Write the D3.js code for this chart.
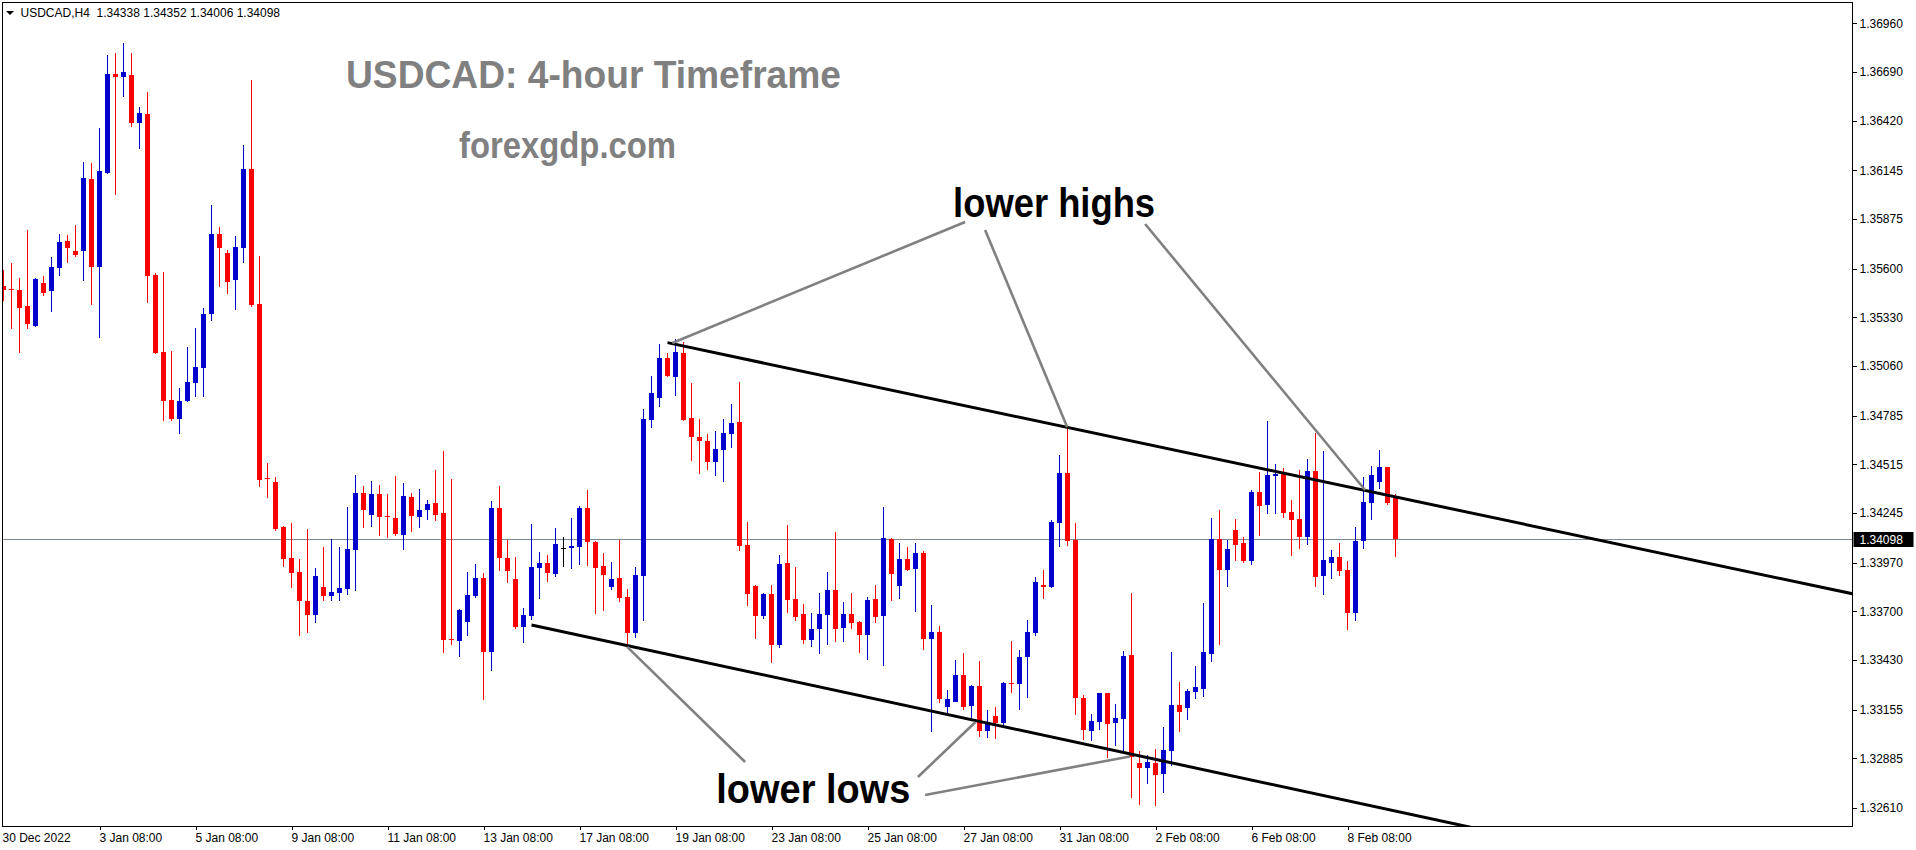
<!DOCTYPE html>
<html>
<head>
<meta charset="utf-8">
<script src="https://cdn.jsdelivr.net/npm/d3@7"></script>
<style>
  html, body { margin: 0; padding: 0; background: #ffffff; }
  svg { display: block; }
  text { font-family: "Liberation Sans", Arial, sans-serif; }
</style>
</head>
<body>
<svg id="chart" width="1916" height="850"></svg>
<script>
// ---------------- DATA (USDCAD H4) ----------------
const symbolHeader = "USDCAD,H4  1.34338 1.34352 1.34006 1.34098";
const chartTitle = "USDCAD: 4-hour Timeframe";
const siteName = "forexgdp.com";

const opens = [
1.35503,1.35489,1.35481,1.35392,1.35281,1.35520,1.35475,1.35603,1.35753,1.35697,
1.35697,1.36096,1.35608,1.36130,1.36678,1.36662,1.36673,1.36407,1.36457,1.35564,
1.35137,1.34871,1.34766,1.34866,1.34968,1.35048,1.35348,1.35791,1.35686,1.35536,
1.35714,1.36152,1.35403,1.34437,1.34416,1.34167,1.33995,1.33917,1.33758,1.33680,
1.33834,1.33787,1.33802,1.33824,1.34041,1.34355,1.34235,1.34350,1.34228,1.34217,
1.34124,1.34333,1.34224,1.34263,1.34300,1.34245,1.33544,1.33537,1.33642,1.33786,
1.33884,1.33476,1.34272,1.33995,1.33879,1.33614,1.33675,1.33941,1.33967,1.33908,
1.34051,1.34051,1.34058,1.34272,1.34084,1.33951,1.33836,1.33884,1.33779,1.33581,
1.33897,1.34762,1.34884,1.35104,1.35000,1.35132,1.34771,1.34666,1.34644,1.34529,
1.34596,1.34684,1.34749,1.34067,1.33840,1.33675,1.33796,1.33514,1.33967,1.33769,
1.33685,1.33542,1.33603,1.33681,1.33818,1.33609,1.33685,1.33640,1.33570,1.33768,
1.33675,1.34100,1.33842,1.33990,1.33936,1.34023,1.33548,1.33587,1.33171,1.33198,
1.33348,1.33176,1.33285,1.33038,1.33121,1.33082,1.33304,1.33298,1.33448,1.33581,
1.33847,1.33836,1.34191,1.34466,1.34097,1.33221,1.33038,1.33088,1.33247,1.33082,
1.33104,1.33459,1.32860,1.32833,1.32860,1.32799,1.32927,1.33182,1.33165,1.33254,
1.33271,1.33465,1.34102,1.33930,1.34152,1.34078,1.33980,1.34361,1.34291,1.34451,
1.34461,1.34252,1.34213,1.34113,1.34477,1.33897,1.33969,1.34002,1.33930,1.33692,
1.34091,1.34302,1.34418,1.34500,1.34338];

const highs = [
1.35592,1.35631,1.35547,1.35814,1.35545,1.35559,1.35664,1.35791,1.35786,1.35841,
1.36191,1.36185,1.36379,1.36784,1.36795,1.36850,1.36795,1.36495,1.36579,1.35575,
1.35581,1.35143,1.34938,1.35165,1.35270,1.35381,1.35952,1.35830,1.35703,1.35780,
1.36285,1.36645,1.35669,1.34522,1.34444,1.34175,1.34191,1.33991,1.34158,1.33941,
1.34058,1.34102,1.34058,1.34278,1.34455,1.34394,1.34422,1.34400,1.34350,1.34450,
1.34411,1.34355,1.34378,1.34317,1.34483,1.34588,1.34433,1.33710,1.33917,1.33962,
1.33912,1.34311,1.34394,1.34097,1.34001,1.33718,1.34184,1.34028,1.34012,1.34161,
1.34112,1.34217,1.34283,1.34372,1.34087,1.34023,1.33973,1.34097,1.33823,1.33945,
1.34821,1.35004,1.35182,1.35132,1.35209,1.35193,1.34965,1.34766,1.34683,1.34699,
1.34766,1.34851,1.34971,1.34195,1.33845,1.33799,1.33845,1.34012,1.34178,1.33945,
1.33740,1.33692,1.33801,1.33917,1.34139,1.33751,1.33801,1.33643,1.33779,1.33845,
1.34278,1.34106,1.34078,1.34056,1.34078,1.34034,1.33735,1.33618,1.33265,1.33431,
1.33470,1.33291,1.33426,1.33154,1.33171,1.33309,1.33537,1.33487,1.33653,1.33891,
1.33930,1.34207,1.34566,1.34716,1.34189,1.33236,1.33132,1.33249,1.33249,1.33187,
1.33481,1.33803,1.32927,1.32905,1.32938,1.33060,1.33476,1.33309,1.33271,1.33398,
1.33747,1.34219,1.34263,1.34097,1.34213,1.34112,1.34372,1.34472,1.34755,1.34516,
1.34494,1.34318,1.34483,1.34544,1.34688,1.34588,1.34041,1.34078,1.33980,1.34169,
1.34444,1.34505,1.34594,1.34502,1.34352];

const lows = [
1.35420,1.35265,1.35137,1.35265,1.35276,1.35448,1.35364,1.35564,1.35631,1.35664,
1.35536,1.35398,1.35220,1.36127,1.36013,1.36556,1.36390,1.36263,1.35414,1.35129,
1.34760,1.34755,1.34688,1.34863,1.34888,1.34888,1.35309,1.35503,1.35459,1.35373,
1.35633,1.35389,1.34394,1.34329,1.34145,1.33947,1.33834,1.33565,1.33582,1.33640,
1.33758,1.33758,1.33758,1.33793,1.33814,1.34163,1.34169,1.34119,1.34108,1.34119,
1.34041,1.34141,1.34163,1.34207,1.34202,1.33470,1.33514,1.33448,1.33564,1.33775,
1.33210,1.33370,1.33925,1.33858,1.33603,1.33526,1.33653,1.33769,1.33864,1.33891,
1.33947,1.33936,1.33958,1.33952,1.33686,1.33703,1.33819,1.33753,1.33513,1.33553,
1.33647,1.34717,1.34834,1.35001,1.34895,1.34756,1.34536,1.34462,1.34485,1.34451,
1.34418,1.34607,1.34036,1.33731,1.33548,1.33659,1.33415,1.33498,1.33692,1.33647,
1.33520,1.33503,1.33465,1.33514,1.33531,1.33531,1.33603,1.33470,1.33431,1.33636,
1.33398,1.33758,1.33769,1.33928,1.33697,1.33487,1.33032,1.33193,1.33126,1.33197,
1.33154,1.33093,1.33004,1.32999,1.32993,1.33071,1.33248,1.33154,1.33221,1.33564,
1.33769,1.33834,1.34058,1.34063,1.33126,1.32988,1.32982,1.33043,1.32888,1.32954,
1.32916,1.32666,1.32627,1.32744,1.32622,1.32694,1.32844,1.33032,1.33099,1.33215,
1.33226,1.33420,1.33514,1.33836,1.33980,1.33969,1.33958,1.34119,1.34241,1.34241,
1.34219,1.34008,1.34047,1.34069,1.33836,1.33792,1.33880,1.33897,1.33598,1.33647,
1.34047,1.34207,1.34378,1.34291,1.34006];

const closes = [
1.35481,1.35484,1.35381,1.35292,1.35542,1.35464,1.35608,1.35747,1.35714,1.35675,
1.36102,1.35608,1.36141,1.36678,1.36662,1.36689,1.36407,1.36462,1.35559,1.35132,
1.34866,1.34766,1.34866,1.34971,1.35054,1.35348,1.35791,1.35714,1.35525,1.35719,
1.36152,1.35398,1.34428,1.34431,1.34158,1.33991,1.33914,1.33758,1.33680,1.33898,
1.33787,1.33808,1.33830,1.34045,1.34355,1.34263,1.34350,1.34224,1.34220,1.34130,
1.34339,1.34230,1.34261,1.34294,1.34235,1.33542,1.33538,1.33707,1.33790,1.33884,
1.33476,1.34272,1.33997,1.33925,1.33614,1.33679,1.33945,1.33967,1.33914,1.34073,
1.34051,1.34062,1.34272,1.34085,1.33941,1.33903,1.33880,1.33775,1.33581,1.33901,
1.34766,1.34910,1.35104,1.35004,1.35137,1.34762,1.34668,1.34645,1.34529,1.34599,
1.34688,1.34745,1.34063,1.33797,1.33675,1.33796,1.33514,1.33962,1.33764,1.33670,
1.33542,1.33601,1.33685,1.33818,1.33603,1.33685,1.33636,1.33570,1.33762,1.33670,
1.34106,1.33908,1.33990,1.33930,1.34023,1.33548,1.33587,1.33215,1.33215,1.33348,
1.33171,1.33285,1.33038,1.33088,1.33082,1.33304,1.33298,1.33448,1.33587,1.33864,
1.33836,1.34196,1.34468,1.34091,1.33221,1.33043,1.33093,1.33247,1.33076,1.33110,
1.33453,1.32894,1.32833,1.32866,1.32794,1.32932,1.33182,1.33143,1.33259,1.33282,
1.33476,1.34102,1.33930,1.34047,1.34069,1.33980,1.34361,1.34285,1.34455,1.34461,
1.34246,1.34207,1.34113,1.34477,1.33891,1.33984,1.34002,1.33925,1.33692,1.34091,
1.34307,1.34455,1.34500,1.34302,1.34098];

// time-axis labels and the candle index at which each one sits
const timeLabels = ["30 Dec 2022","3 Jan 08:00","5 Jan 08:00","9 Jan 08:00","11 Jan 08:00",
  "13 Jan 08:00","17 Jan 08:00","19 Jan 08:00","23 Jan 08:00","25 Jan 08:00","27 Jan 08:00",
  "31 Jan 08:00","2 Feb 08:00","6 Feb 08:00","8 Feb 08:00"];
const timeLabelIndex = [0,12,24,36,48,60,72,84,96,108,120,132,144,156,168];

// price-axis tick labels
const priceTicks = [1.36960,1.36690,1.36420,1.36145,1.35875,1.35600,1.35330,1.35060,
  1.34785,1.34515,1.34245,1.33970,1.33700,1.33430,1.33155,1.32885,1.32610];
const priceDomain = [1.325092, 1.370748];
const bidPrice = 1.34098;

// channel trend lines: [candle index, price] anchors (drawn as rays to the right)
const upperTrend = [[83, 1.35189], [153, 1.34531]];
const lowerTrend = [[66, 1.33624], [154, 1.32783]];

// grey pointer lines: [[index, price], [index, price]]
const pointerLines = [
  [[83.6, 1.35187], [120.2, 1.35858]],
  [[122.7, 1.35814], [132.96, 1.34721]],
  [[142.7, 1.35847], [170.2, 1.34372]],
  [[77.96, 1.33502], [92.7, 1.32864]],
  [[114.3, 1.32781], [121.5, 1.33086]],
  [[115.2, 1.32681], [140.8, 1.32895]]
];
const annotationTexts = [
  {text: "lower highs", at: [118.7, 1.35886], width: 202},
  {text: "lower lows",  at: [89.1, 1.32637],  width: 194}
];

// ---------------- LAYOUT ----------------
const W = 1916, H = 850;
const plot = {left: 2.5, right: 1852.5, top: 2.5, bottom: 826};
const barStep = 8, bodyW = 5;
const colUp = "#0000cd", colDown = "#ff0000", colFlat = "#000000";

const svg = d3.select("#chart");
svg.append("rect").attr("width", W).attr("height", H).attr("fill", "#ffffff");

const x = d3.scaleLinear().domain([0, 1]).range([plot.left + 1, plot.left + 1 + barStep]);
const y = d3.scaleLinear().domain(priceDomain).range([plot.bottom, plot.top]);

const candles = opens.map((o, i) => ({i, o, h: highs[i], l: lows[i], c: closes[i]}));
const colorOf = d => d.c > d.o ? colUp : (d.c < d.o ? colDown : colFlat);

svg.append("defs").append("clipPath").attr("id", "plotClip")
  .append("rect").attr("x", plot.left).attr("y", plot.top)
  .attr("width", plot.right - plot.left).attr("height", plot.bottom - plot.top);

const gPlot = svg.append("g").attr("clip-path", "url(#plotClip)");

// bid line
const yb = Math.round(y(bidPrice)) + 0.5;
gPlot.append("line").attr("x1", plot.left).attr("x2", plot.right)
  .attr("y1", yb).attr("y2", yb).attr("stroke", "#7d8790").attr("stroke-width", 1);

// candles
const gC = gPlot.append("g").attr("shape-rendering", "crispEdges");
gC.selectAll("line.wick").data(candles).join("line").attr("class", "wick")
  .attr("x1", d => x(d.i)).attr("x2", d => x(d.i))
  .attr("y1", d => y(d.h)).attr("y2", d => y(d.l) + 0.5)
  .attr("stroke", colorOf).attr("stroke-width", 1);
gC.selectAll("rect.body").data(candles).join("rect").attr("class", "body")
  .attr("x", d => x(d.i) - bodyW / 2)
  .attr("y", d => y(Math.max(d.o, d.c)))
  .attr("width", bodyW)
  .attr("height", d => Math.max(1, Math.abs(y(d.o) - y(d.c))))
  .attr("fill", colorOf);

// channel rays
const iRight = x.invert(plot.right + 5);
function ray(a) {
  const [[i1, p1], [i2, p2]] = a;
  const pR = p1 + (p2 - p1) / (i2 - i1) * (iRight - i1);
  return [[i1, p1], [iRight, pR]];
}
const lineGen = d3.line().x(d => x(d[0])).y(d => y(d[1]));
[upperTrend, lowerTrend].forEach(t => {
  gPlot.append("path").attr("d", lineGen(ray(t)))
    .attr("fill", "none").attr("stroke", "#000").attr("stroke-width", 3);
});

// grey pointer lines
pointerLines.forEach(pl => {
  gPlot.append("path").attr("d", lineGen(pl))
    .attr("fill", "none").attr("stroke", "#808080").attr("stroke-width", 2.6);
});

// annotation texts
annotationTexts.forEach(a => {
  gPlot.append("text").attr("x", x(a.at[0])).attr("y", y(a.at[1]))
    .attr("font-size", 40).attr("font-weight", "bold").attr("fill", "#000")
    .attr("textLength", a.width).attr("lengthAdjust", "spacingAndGlyphs")
    .text(a.text);
});

// watermark title texts
svg.append("text").attr("x", 346).attr("y", 88).attr("font-size", 38)
  .attr("font-weight", "bold").attr("fill", "#808080")
  .attr("textLength", 495).attr("lengthAdjust", "spacingAndGlyphs").text(chartTitle);
svg.append("text").attr("x", 459).attr("y", 158).attr("font-size", 36)
  .attr("font-weight", "bold").attr("fill", "#808080")
  .attr("textLength", 217).attr("lengthAdjust", "spacingAndGlyphs").text(siteName);

// frame
svg.append("rect").attr("x", plot.left).attr("y", plot.top)
  .attr("width", plot.right - plot.left).attr("height", plot.bottom - plot.top)
  .attr("fill", "none").attr("stroke", "#000").attr("stroke-width", 1)
  .attr("shape-rendering", "crispEdges");

// price axis
const yAxis = d3.axisRight(y).tickValues(priceTicks).tickFormat(d3.format(".5f"))
  .tickSize(4).tickPadding(3);
const gY = svg.append("g").attr("transform", `translate(${plot.right},0)`).call(yAxis);
gY.select(".domain").remove();
gY.selectAll("line").attr("stroke", "#000").attr("shape-rendering", "crispEdges");
gY.selectAll("text").attr("font-size", 12).attr("fill", "#000")
  .attr("font-family", "'Liberation Sans', Arial, sans-serif");

// current price label
svg.append("rect").attr("x", plot.right + 1).attr("y", yb - 7.5)
  .attr("width", 60).attr("height", 15).attr("fill", "#000");
svg.append("text").attr("x", plot.right + 7).attr("y", yb).attr("dy", "0.35em")
  .attr("font-size", 12).attr("fill", "#fff").text(d3.format(".5f")(bidPrice));

// time axis
const gX = svg.append("g");
timeLabelIndex.forEach((k, j) => {
  const xp = Math.round(x(k)) + 0.5;
  if (j > 0) {
    gX.append("line").attr("x1", xp).attr("x2", xp)
      .attr("y1", plot.bottom).attr("y2", plot.bottom + 4)
      .attr("stroke", "#000").attr("shape-rendering", "crispEdges");
  }
  gX.append("text").attr("x", j === 0 ? plot.left : xp - 1).attr("y", 842)
    .attr("font-size", 12).attr("fill", "#000").text(timeLabels[j]);
});

// header
svg.append("path").attr("d", "M6,11 L14,11 L10,15 Z").attr("fill", "#000");
svg.append("text").attr("x", 20.5).attr("y", 17).attr("font-size", 12)
  .attr("fill", "#000").attr("xml:space", "preserve").style("white-space", "pre")
  .text(symbolHeader);
</script>
</body>
</html>
